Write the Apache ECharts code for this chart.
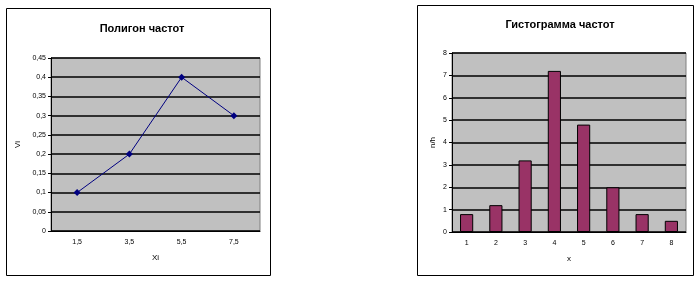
<!DOCTYPE html>
<html><head><meta charset="utf-8">
<script src="https://cdn.jsdelivr.net/npm/echarts@6/dist/echarts.min.js"></script>
<style>html,body{margin:0;padding:0;background:#fff}#c{width:700px;height:281px}</style>
</head><body><div id="c"></div>
<script>
var polyCategories = ['1,5', '3,5', '5,5', '7,5'];
var polyValues = [0.1, 0.2, 0.4, 0.3];
var histCategories = ['1', '2', '3', '4', '5', '6', '7', '8'];
var histValues = [0.8, 1.2, 3.2, 7.2, 4.8, 2, 0.8, 0.5];

var FONT = 'Liberation Sans, Arial, sans-serif';
var chart = echarts.init(document.getElementById('c'));
function comma(v){ return String(Math.round(v*100)/100).replace('.', ','); }
var lbl = {fontFamily: FONT, fontSize: 7, color: '#000'};
var nm = {fontFamily: FONT, fontSize: 8, color: '#000'};
chart.setOption({
  animation: false,
  graphic: [
    {type: 'rect', shape: {x: 6.5, y: 8.5, width: 264, height: 267}, style: {fill: 'none', stroke: '#000', lineWidth: 1}},
    {type: 'rect', shape: {x: 417.5, y: 5.5, width: 276, height: 270}, style: {fill: 'none', stroke: '#000', lineWidth: 1}}
  ],
  title: [
    {text: 'Полигон частот', left: 137, top: 18, textAlign: 'center', textStyle: {fontFamily: FONT, fontSize: 11, fontWeight: 'bold', color: '#000'}},
    {text: 'Гистограмма частот', left: 555, top: 14, textAlign: 'center', textStyle: {fontFamily: FONT, fontSize: 11, fontWeight: 'bold', color: '#000'}}
  ],
  grid: [
    {left: 51, top: 58, width: 209, height: 173, show: true, backgroundColor: '#c0c0c0', borderColor: '#808080', borderWidth: 1},
    {left: 452, top: 53, width: 234, height: 179, show: true, backgroundColor: '#c0c0c0', borderColor: '#808080', borderWidth: 1}
  ],
  xAxis: [
    {type: 'category', gridIndex: 0, data: polyCategories, boundaryGap: true,
     name: 'Xi', nameLocation: 'middle', nameGap: 23, nameTextStyle: nm,
     axisLine: {lineStyle: {color: '#000'}}, axisTick: {length: 3, lineStyle: {color: '#000'}},
     axisLabel: Object.assign({margin: 8}, lbl), splitLine: {show: false}},
    {type: 'category', gridIndex: 1, data: histCategories, boundaryGap: true,
     name: 'x', nameLocation: 'middle', nameGap: 23, nameTextStyle: nm,
     axisLine: {lineStyle: {color: '#000'}}, axisTick: {length: 3, lineStyle: {color: '#000'}},
     axisLabel: Object.assign({margin: 8}, lbl), splitLine: {show: false}}
  ],
  yAxis: [
    {type: 'value', gridIndex: 0, min: 0, max: 0.45, interval: 0.05,
     name: 'Vi', nameLocation: 'middle', nameGap: 29, nameTextStyle: nm,
     axisLine: {show: true, lineStyle: {color: '#000'}}, axisTick: {show: true, length: 3, lineStyle: {color: '#000'}},
     axisLabel: Object.assign({margin: 5, formatter: comma}, lbl),
     splitLine: {lineStyle: {color: '#000', width: 1.5}}},
    {type: 'value', gridIndex: 1, min: 0, max: 8, interval: 1,
     name: 'n/h', nameLocation: 'middle', nameGap: 15, nameTextStyle: nm,
     axisLine: {show: true, lineStyle: {color: '#000'}}, axisTick: {show: true, length: 3, lineStyle: {color: '#000'}},
     axisLabel: Object.assign({margin: 5}, lbl),
     splitLine: {lineStyle: {color: '#000', width: 1.5}}}
  ],
  series: [
    {type: 'line', xAxisIndex: 0, yAxisIndex: 0, data: polyValues,
     symbol: 'diamond', symbolSize: 7, lineStyle: {color: '#000080', width: 1},
     itemStyle: {color: '#000080'}},
    {type: 'bar', xAxisIndex: 1, yAxisIndex: 1, data: histValues, barWidth: '45%',
     itemStyle: {color: '#993366', borderColor: '#000', borderWidth: 1}}
  ]
});
</script></body></html>
